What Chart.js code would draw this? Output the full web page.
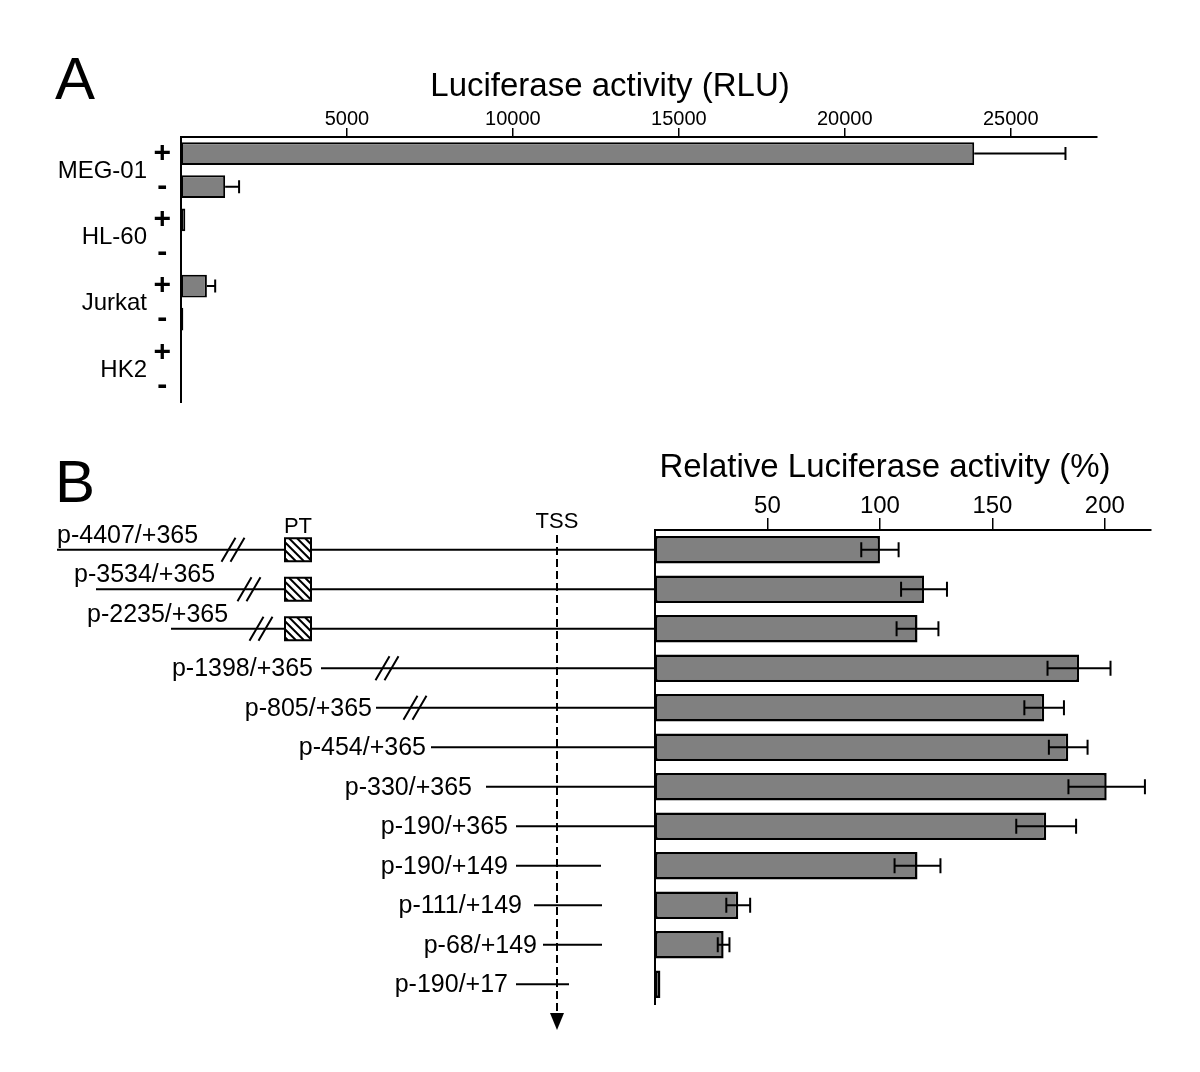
<!DOCTYPE html>
<html>
<head>
<meta charset="utf-8">
<title>Luciferase activity</title>
<script src="https://cdn.jsdelivr.net/npm/chart.js@4.4.1/dist/chart.umd.min.js"></script>
<style>
    html, body { margin: 0; padding: 0; background: #fff; }
    #boxA { position: absolute; left: 0; top: 0; width: 1200px; height: 430px; }
    #boxB { position: absolute; left: 0; top: 430px; width: 1200px; height: 642px; }
</style>
</head>
<body>
<div id="boxA"><canvas id="chartA"></canvas></div>
<div id="boxB"><canvas id="chartB"></canvas></div>
<script>
// ---- data, panel A ----
var cellLines = ['MEG-01', 'HL-60', 'Jurkat', 'HK2'];
var rowSigns = ['+', '-', '+', '-', '+', '-', '+', '-'];
var rluValues = [23900, 1330, 130, 0, 780, 70, 0, 0];
var rluErrors = [2750, 420, 0, 0, 250, 0, 0, 0];
var rluTicks = [5000, 10000, 15000, 20000, 25000];

// ---- data, panel B ----
var constructs = ['p-4407/+365', 'p-3534/+365', 'p-2235/+365', 'p-1398/+365', 'p-805/+365', 'p-454/+365',
    'p-330/+365', 'p-190/+365', 'p-190/+149', 'p-111/+149', 'p-68/+149', 'p-190/+17'];
var relValues = [100, 119.6, 116.7, 188.5, 173, 183.7, 200.8, 173.9, 116.7, 37, 30.5, 2.4];
var relErrors = [8.3, 10.2, 9.3, 14, 8.8, 8.6, 17, 13.3, 10.2, 5.3, 2.6, 0];
var relTicks = [50, 100, 150, 200];

// schematic of the constructs (drawing positions only, x in page pixels)
// end: null = runs to the bar axis
var schematic = [
    { lx: 57, above: true, start: 57, end: null, slash: 233, pt: true },
    { lx: 74, above: true, start: 96, end: null, slash: 249, pt: true },
    { lx: 87, above: true, start: 171, end: null, slash: 261, pt: true },
    { lx: 313, start: 321, end: null, slash: 387 },
    { lx: 372, start: 376, end: null, slash: 415 },
    { lx: 426, start: 431, end: null },
    { lx: 472, start: 486, end: null },
    { lx: 508, start: 516, end: null },
    { lx: 508, start: 516, end: 601 },
    { lx: 522, start: 534, end: 602 },
    { lx: 537, start: 543, end: 602 },
    { lx: 508, start: 516, end: 569 }
];
var tssX = 557, ptX = 298;

var FONT = "'Liberation Sans', Arial, Helvetica, sans-serif";
Chart.defaults.font.family = FONT;
Chart.defaults.color = '#000';

function drawErrors(chart, values, errors, twoSided, cap) {
    var ctx = chart.ctx, xs = chart.scales.x, ys = chart.scales.y;
    ctx.save();
    ctx.strokeStyle = '#000';
    ctx.lineWidth = 2;
    for (var i = 0; i < values.length; i++) {
        if (!errors[i]) continue;
        var y = ys.getPixelForValue(i);
        var x0 = xs.getPixelForValue(twoSided ? values[i] - errors[i] : values[i]);
        var x1 = xs.getPixelForValue(values[i] + errors[i]);
        ctx.beginPath();
        ctx.moveTo(x0, y); ctx.lineTo(x1, y);
        ctx.moveTo(x1, y - cap / 2); ctx.lineTo(x1, y + cap / 2);
        if (twoSided) { ctx.moveTo(x0, y - cap / 2); ctx.lineTo(x0, y + cap / 2); }
        ctx.stroke();
    }
    ctx.restore();
}

// extra text for panel A
var panelA = {
    id: 'panelA',
    afterDatasetsDraw: function (chart) {
        drawErrors(chart, rluValues, rluErrors, false, 13);
    },
    afterDraw: function (chart) {
        var ctx = chart.ctx, ys = chart.scales.y;
        ctx.save();
        ctx.fillStyle = '#000';
        ctx.textBaseline = 'alphabetic';
        ctx.font = '60px ' + FONT;
        ctx.textAlign = 'left';
        ctx.fillText('A', 55, 99);
        ctx.font = '33px ' + FONT;
        ctx.textAlign = 'center';
        ctx.fillText('Luciferase activity (RLU)', 610, 96);
        // cell line names sit between their + and - rows
        ctx.font = '24px ' + FONT;
        ctx.textAlign = 'right';
        ctx.textBaseline = 'middle';
        cellLines.forEach(function (name, k) {
            var y = (ys.getPixelForValue(2 * k) + ys.getPixelForValue(2 * k + 1)) / 2;
            ctx.fillText(name, 147, y + 1);
        });
        ctx.restore();
    }
};

// construct map + text for panel B
var panelB = {
    id: 'panelB',
    afterDatasetsDraw: function (chart) {
        drawErrors(chart, relValues, relErrors, true, 15);
    },
    afterDraw: function (chart) {
        var ctx = chart.ctx, ys = chart.scales.y, area = chart.chartArea;
        ctx.save();
        ctx.fillStyle = '#000';
        ctx.strokeStyle = '#000';
        ctx.font = '60px ' + FONT;
        ctx.textAlign = 'left';
        ctx.textBaseline = 'alphabetic';
        ctx.fillText('B', 55, 72);
        ctx.font = '33px ' + FONT;
        ctx.textAlign = 'center';
        ctx.fillText('Relative Luciferase activity (%)', 885, 47);
        ctx.font = '22px ' + FONT;
        ctx.fillText('PT', ptX, 103);
        ctx.fillText('TSS', tssX, 98);

        ctx.lineWidth = 2;
        schematic.forEach(function (s, i) {
            var y = ys.getPixelForValue(i);
            var end = s.end === null ? area.left : s.end;
            ctx.beginPath();
            ctx.moveTo(s.start, y); ctx.lineTo(end, y);
            ctx.stroke();

            ctx.font = '25px ' + FONT;
            if (s.above) {
                ctx.textAlign = 'left';
                ctx.textBaseline = 'alphabetic';
                ctx.fillText(constructs[i], s.lx, y - 7);
            } else {
                ctx.textAlign = 'right';
                ctx.textBaseline = 'middle';
                ctx.fillText(constructs[i], s.lx, y + 1);
            }

            // break mark //
            if (s.slash) {
                ctx.beginPath();
                [-4.5, 4.5].forEach(function (d) {
                    ctx.moveTo(s.slash + d - 7, y + 12);
                    ctx.lineTo(s.slash + d + 7, y - 12);
                });
                ctx.stroke();
            }

            // hatched PT box
            if (s.pt) {
                var bx = ptX - 13, by = y - 11.5, bw = 26, bh = 23;
                ctx.fillStyle = '#fff';
                ctx.fillRect(bx, by, bw, bh);
                ctx.save();
                ctx.beginPath();
                ctx.rect(bx, by, bw, bh);
                ctx.clip();
                ctx.lineWidth = 2;
                ctx.beginPath();
                for (var k = -20; k < 30; k += 8) {
                    ctx.moveTo(bx + k, by);
                    ctx.lineTo(bx + k + bh, by + bh);
                }
                ctx.stroke();
                ctx.restore();
                ctx.lineWidth = 2;
                ctx.strokeRect(bx, by, bw, bh);
                ctx.fillStyle = '#000';
            }
        });

        // TSS dashed arrow
        var yTop = 105, yTip = 600;
        ctx.setLineDash([8, 4]);
        ctx.beginPath();
        ctx.moveTo(tssX, yTop); ctx.lineTo(tssX, yTip - 14);
        ctx.stroke();
        ctx.setLineDash([]);
        ctx.beginPath();
        ctx.moveTo(tssX - 7, yTip - 17);
        ctx.lineTo(tssX + 7, yTip - 17);
        ctx.lineTo(tssX, yTip);
        ctx.closePath();
        ctx.fill();
        ctx.restore();
    }
};

function barOptions(max, ticks, tickFont, tickLen, xHeight, yWidth, pad) {
    return {
        responsive: true,
        maintainAspectRatio: false,
        animation: false,
        devicePixelRatio: 1,
        indexAxis: 'y',
        layout: { padding: pad },
        plugins: { legend: { display: false }, tooltip: { enabled: false } },
        scales: {
            x: {
                position: 'top',
                min: 0,
                max: max,
                afterBuildTicks: function (axis) {
                    axis.ticks = ticks.map(function (v) { return { value: v }; });
                },
                afterFit: function (scale) { scale.height = xHeight; },
                ticks: {
                    font: { size: tickFont },
                    padding: -3,
                    maxRotation: 0,
                    callback: function (v) { return String(v); }
                },
                grid: { drawOnChartArea: false, drawTicks: true, tickLength: tickLen, color: '#000', lineWidth: 1.5 },
                border: { display: true, color: '#000', width: 2 }
            },
            y: {
                afterFit: function (scale) { scale.width = yWidth; },
                grid: { display: false, drawTicks: false },
                border: { display: true, color: '#000', width: 2 }
            }
        }
    };
}

// Panel A
var optsA = barOptions(27600, rluTicks, 20, 9, 30, 40, { left: 141, right: 103, top: 107, bottom: 20 });
optsA.scales.y.ticks = { font: { size: 30, weight: 'bold' }, crossAlign: 'center', padding: 10, autoSkip: false };
new Chart(document.getElementById('chartA'), {
    type: 'bar',
    data: {
        labels: rowSigns,
        datasets: [{
            data: rluValues,
            backgroundColor: '#808080',
            borderColor: '#000',
            borderWidth: 2,
            borderSkipped: false,
            categoryPercentage: 1,
            barPercentage: 0.69
        }]
    },
    options: optsA,
    plugins: [panelA]
});

// Panel B
var optsB = barOptions(220.5, relTicks, 24, 12, 40, 0, { left: 655, right: 49, top: 60, bottom: 68 });
optsB.scales.y.ticks = { display: false };
new Chart(document.getElementById('chartB'), {
    type: 'bar',
    data: {
        labels: constructs,
        datasets: [{
            data: relValues,
            backgroundColor: '#808080',
            borderColor: '#000',
            borderWidth: 2.5,
            borderSkipped: false,
            categoryPercentage: 1,
            barPercentage: 0.69
        }]
    },
    options: optsB,
    plugins: [panelB]
});
</script>
</body>
</html>
